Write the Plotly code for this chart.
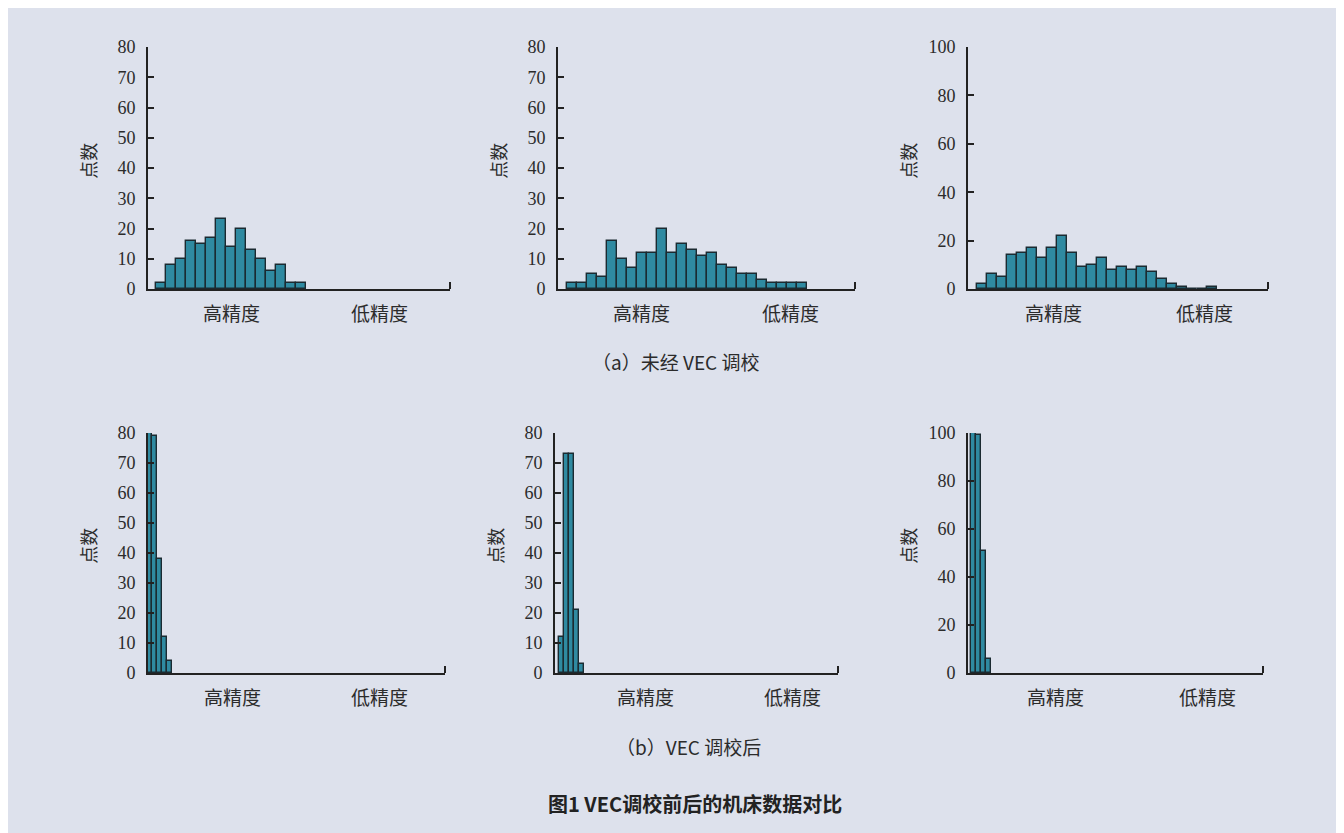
import plotly.graph_objects as go

# ---------------- data ----------------
a1_counts = [2, 8, 10, 16, 15, 17, 23, 14, 20, 13, 10, 6, 8, 2, 2]
a2_counts = [2, 2, 5, 4, 16, 10, 7, 12, 12, 20, 12, 15, 13, 11, 12, 8, 7, 5, 5, 3, 2, 2, 2, 2]
a3_counts = [2, 6, 5, 14, 15, 17, 13, 17, 22, 15, 9, 10, 13, 8, 9, 8, 9, 7, 4, 2, 1, 0, 0, 1]
b1_counts = [80, 79, 38, 12, 4]
b2_counts = [12, 73, 73, 21, 3]
b3_counts = [100, 99, 51, 6]
y_max = [80, 80, 100, 80, 80, 100]
y_dtick = [10, 10, 20, 10, 10, 20]
x_labels = ["高精度", "低精度"]
y_title = "点数"
caption_a = "（a）未经 VEC 调校"
caption_b = "（b）VEC 调校后"
fig_title = "图1 VEC调校前后的机床数据对比"

series = [a1_counts, a2_counts, a3_counts, b1_counts, b2_counts, b3_counts]

# ---------------- layout config (target pixels in the 1344x833 screenshot) ----------------
W, H = 1344, 833
OFF = 8  # page body margin


def px(x):
    return (x - OFF) / W


def py(y):
    return 1 - (y - OFF) / H


panels = [
    (148, 450, 47, 289, (-1.27, 28.93), (7.1, 21.9)),
    (558, 855, 47, 289, (-1.37, 28.33), (6.93, 21.9)),
    (968, 1268, 47, 289, (-1.37, 28.63), (7.13, 22.3)),
    (148, 445, 433, 673, (-0.36, 59.04), (16.6, 46.0)),
    (555, 838, 433, 673, (-1.36, 55.24), (16.64, 46.04)),
    (968, 1263, 433, 673, (-1.1, 57.9), (16.3, 46.7)),
]

BG = "#dde1ec"
TXT = "#2b2b2b"
BAR = "#2f8aa1"
EDGE = "#1b2a31"
SERIF = "Liberation Serif, Times New Roman, serif"
CJK = "Noto Sans CJK SC, sans-serif"

fig = go.Figure()
layout = dict(
    width=W, height=H,
    margin=dict(l=0, r=0, t=0, b=0, pad=0, autoexpand=False),
    paper_bgcolor=BG, plot_bgcolor=BG,
    showlegend=False, bargap=0,
    annotations=[],
)

for i, (vals, p) in enumerate(zip(series, panels)):
    x0, x1, yt, yb, xr, lab = p
    n = i + 1
    sx = "" if n == 1 else str(n)
    fig.add_trace(go.Bar(
        x=list(range(len(vals))), y=vals, width=1,
        marker=dict(color=BAR, line=dict(color=EDGE, width=1.4)),
        xaxis="x" + sx, yaxis="y" + sx, hoverinfo="x+y",
    ))
    layout["xaxis" + sx] = dict(
        domain=[px(x0), px(x1)], anchor="y" + sx, range=list(xr),
        showgrid=False, zeroline=False, showline=True, linecolor="#222", linewidth=1.6,
        showticklabels=False, ticks="", fixedrange=True, automargin=False,
        minor=dict(tickvals=[xr[1] - 0.02], ticks="inside", ticklen=7,
                   tickwidth=1.6, tickcolor="#222"),
    )
    layout["yaxis" + sx] = dict(
        domain=[py(yb), py(yt)], anchor="x" + sx, range=[0, y_max[i]],
        showgrid=False, zeroline=False, showline=True, linecolor="#222", linewidth=1.6,
        ticks="inside", ticklen=6, tickwidth=1.6, tickcolor="#222",
        dtick=y_dtick[i], tick0=0, ticklabelstandoff=7, automargin=False,
        tickfont=dict(family=SERIF, size=18, color=TXT), fixedrange=True,
    )
    for lx, txt in zip(lab, x_labels):
        layout["annotations"].append(dict(
            x=lx, y=py(yb + 23), xref="x" + sx, yref="paper",
            text=txt, showarrow=False, xanchor="center", yanchor="middle",
            font=dict(family=CJK, size=19, color=TXT),
        ))
    layout["annotations"].append(dict(
        x=px(x0 - 60), y=py(yt + (yb - yt) * 0.47), xref="paper", yref="paper",
        text=y_title, textangle=-90, showarrow=False, xanchor="center", yanchor="middle",
        font=dict(family=CJK, size=18, color=TXT),
    ))

layout["annotations"] += [
    dict(x=px(675), y=py(362), xref="paper", yref="paper", text=caption_a,
         showarrow=False, xanchor="center", yanchor="middle",
         font=dict(family=CJK, size=19, color=TXT)),
    dict(x=px(688), y=py(746), xref="paper", yref="paper", text=caption_b,
         showarrow=False, xanchor="center", yanchor="middle",
         font=dict(family=CJK, size=19, color=TXT)),
    dict(x=px(695), y=py(803), xref="paper", yref="paper", text="<b>" + fig_title + "</b>",
         showarrow=False, xanchor="center", yanchor="middle",
         font=dict(family=CJK, size=20, color="#222")),
]

fig.update_layout(**layout)
fig.write_html("out.html")
